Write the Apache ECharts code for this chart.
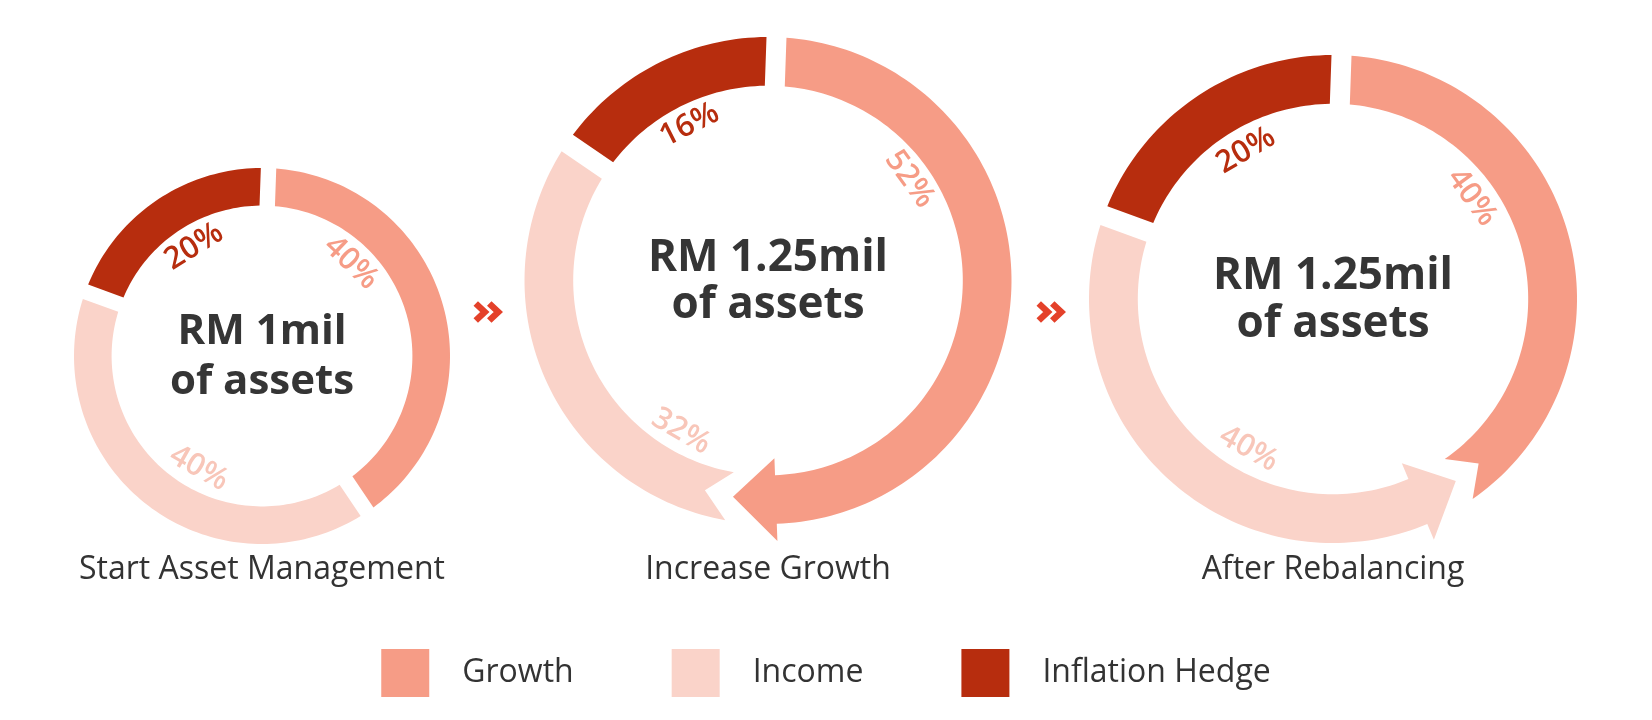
<!DOCTYPE html>
<html>
<head>
<meta charset="utf-8">
<script src="https://cdn.jsdelivr.net/npm/echarts@6/dist/echarts.min.js"></script>
<style>
html,body{margin:0;padding:0;background:#ffffff;}
#main{width:1652px;height:720px;}
</style>
</head>
<body>
<div id="main"></div>
<script>
// ---------------- data ----------------
const categories = ['Growth', 'Income', 'Inflation Hedge'];
const stageTitles = ['Start Asset Management', 'Increase Growth', 'After Rebalancing'];
const centerLine1 = ['RM 1mil', 'RM 1.25mil', 'RM 1.25mil'];
const centerLine2 = ['of assets', 'of assets', 'of assets'];
const growthPct = [40, 52, 40];
const incomePct = [40, 32, 40];
const inflationPct = [20, 16, 20];
const arrowFrom = [null, 'Growth', 'Income'];
const arrowTo = [null, 'Income', 'Growth'];

// ---------------- layout / style ----------------
const FONT = '"Open Sans", "Noto Sans", sans-serif';
const colors = ['#F69C86', '#FAD3C9', '#B72D0E'];
const labelColors = ['#F69C86', '#F8C6B9', '#B72D0E'];
const rings = [
  { cx: 262, cy: 356, r: 188, font: 42, lineH: 50, labelRho: 68.5, labelFrac: [0.29, 0.44, 0.53] },
  { cx: 768, cy: 280.5, r: 243.5, font: 44, lineH: 47, labelRho: 71.5, labelFrac: [0.28, 0.18, 0.5] },
  { cx: 1333, cy: 299, r: 244, font: 44, lineH: 48, labelRho: 70.5, labelFrac: [0.36, 0.44, 0.55] }
];
const START_ANGLE = 88;
const INNER = 80, OUTER = 100, MID = 90;
const HALF_GAP = 4.1;      // in radius-axis units
const ARROW_LEN = 3.13;    // in angle-axis units
const EXT = 7;             // arrow barb overhang (radius units)
const TIP_ADV = 0;
const F = EXT / (MID - INNER + EXT);
const alpha = Math.atan2((MID - INNER + EXT) / 100, ARROW_LEN / 100 * 2 * Math.PI * MID / 100);
const DS = ((2 * HALF_GAP / 100) / Math.sin(alpha)) / (MID / 100) / (2 * Math.PI) * 100;

function dv(rho) { return Math.asin(HALF_GAP / rho) / (2 * Math.PI) * 100; }

function startEdge(type, B, dir) {
  if (type === 'flat') {
    return { pts: [[INNER, B + dv(INNER)], [OUTER, B + dv(OUTER)]], vIn: B + dv(INNER), vOut: B + dv(OUTER) };
  }
  const T = B + dir * TIP_ADV;
  if (type === 'arrow') {
    const base = T - dir * ARROW_LEN;
    return { pts: [[INNER, base], [INNER - EXT, base], [MID, T], [OUTER + EXT, base], [OUTER, base]], vIn: base, vOut: base };
  }
  const tipN = T + dir * DS, corner = T + dir * (DS - (1 - F) * ARROW_LEN);
  return { pts: [[INNER, corner], [MID, tipN], [OUTER, corner]], vIn: corner, vOut: corner };
}
function endEdge(type, B, dir) {
  if (type === 'flat') {
    return { pts: [[OUTER, B - dv(OUTER)], [INNER, B - dv(INNER)]], vIn: B - dv(INNER), vOut: B - dv(OUTER) };
  }
  const T = B + dir * TIP_ADV;
  if (type === 'arrow') {
    const base = T - dir * ARROW_LEN;
    return { pts: [[OUTER, base], [OUTER + EXT, base], [MID, T], [INNER - EXT, base], [INNER, base]], vIn: base, vOut: base };
  }
  const tipN = T + dir * DS, corner = T + dir * (DS - (1 - F) * ARROW_LEN);
  return { pts: [[OUTER, corner], [MID, tipN], [INNER, corner]], vIn: corner, vOut: corner };
}

function chartSegments(i) {
  const vals = [growthPct[i], incomePct[i], inflationPct[i]];
  const starts = [0, vals[0], vals[0] + vals[1]];
  const segs = vals.map((v, k) => ({ value: v, start: starts[k], end: starts[k] + v, sType: 'flat', eType: 'flat', sDir: 0, eDir: 0 }));
  if (arrowFrom[i]) {
    const f = categories.indexOf(arrowFrom[i]);
    const t = categories.indexOf(arrowTo[i]);
    if (t === (f + 1) % 3) {
      segs[f].eType = 'arrow'; segs[f].eDir = 1;
      segs[t].sType = 'notch'; segs[t].sDir = 1;
    } else {
      segs[f].sType = 'arrow'; segs[f].sDir = -1;
      segs[t].eType = 'notch'; segs[t].eDir = -1;
    }
  }
  return segs;
}

function makeRender(i, k) {
  const seg = chartSegments(i)[k];
  const ring = rings[i];
  return function (params, api) {
    const s = startEdge(seg.sType, seg.start, seg.sDir);
    const e = endEdge(seg.eType, seg.end, seg.eDir);
    const poly = [];
    const step = 0.4;
    const nO = Math.max(2, Math.ceil((e.vOut - s.vOut) / step));
    for (let j = 0; j <= nO; j++) poly.push([OUTER, s.vOut + (e.vOut - s.vOut) * j / nO]);
    e.pts.forEach(p => poly.push(p));
    const nI = Math.max(2, Math.ceil((e.vIn - s.vIn) / step));
    for (let j = 0; j <= nI; j++) poly.push([INNER, e.vIn - (e.vIn - s.vIn) * j / nI]);
    s.pts.forEach(p => poly.push(p));
    const points = poly.map(p => { const c = api.coord(p); return [c[0], c[1]]; });

    const cx = params.coordSys.cx, cy = params.coordSys.cy;
    const lv = seg.start + ring.labelFrac[k] * seg.value;
    const lp = api.coord([ring.labelRho, lv]);
    const phi = Math.atan2(lp[0] - cx, -(lp[1] - cy)); // clockwise from top
    let deg = phi * 180 / Math.PI;
    if (deg < 0) deg += 360;
    let rot = (deg > 90 && deg < 270) ? (180 - deg) : (-deg);
    return {
      type: 'group',
      children: [
        { type: 'polygon', shape: { points: points }, style: { fill: colors[k] } },
        {
          type: 'text', x: lp[0], y: lp[1], rotation: rot * Math.PI / 180,
          style: {
            text: seg.value + '%', fill: labelColors[k], fontSize: 31, fontWeight: 600,
            fontFamily: FONT, align: 'center', verticalAlign: 'middle'
          }
        }
      ]
    };
  };
}

const polar = rings.map(r => ({ center: [r.cx, r.cy], radius: r.r }));
const angleAxis = rings.map((r, i) => ({ polarIndex: i, type: 'value', min: 0, max: 100, startAngle: START_ANGLE, clockwise: true, show: false }));
const radiusAxis = rings.map((r, i) => ({ polarIndex: i, type: 'value', min: 0, max: 100, show: false }));

const series = [];
rings.forEach((r, i) => {
  const segs = chartSegments(i);
  categories.forEach((name, k) => {
    series.push({
      type: 'custom', name: name, coordinateSystem: 'polar', polarIndex: i,
      itemStyle: { color: colors[k] }, silent: true,
      data: [[MID, segs[k].start]],
      renderItem: makeRender(i, k)
    });
  });
});

const titles = [];
rings.forEach((r, i) => {
  titles.push({
    text: centerLine1[i] + '\n' + centerLine2[i], left: r.cx, top: r.cy + 1,
    textAlign: 'center', textVerticalAlign: 'middle', padding: 0,
    textStyle: { fontSize: r.font, fontWeight: 'bold', fontFamily: FONT, color: '#353535', lineHeight: r.lineH }
  });
  titles.push({
    text: stageTitles[i], left: r.cx, top: 570,
    textAlign: 'center', textVerticalAlign: 'middle', padding: 0,
    textStyle: { fontSize: 32, fontWeight: 'normal', fontFamily: FONT, color: '#333333' }
  });
});

const graphic = [];
for (let i = 0; i < rings.length - 1; i++) {
  const x = (rings[i].cx + rings[i].r + rings[i + 1].cx - rings[i + 1].r) / 2;
  const y = 312;
  [[-11.5, -2.5], [2, 11]].forEach(([a, b]) => {
    graphic.push({
      type: 'polyline', silent: true,
      shape: { points: [[x + a, y - 8.5], [x + b, y], [x + a, y + 8.5]] },
      style: { stroke: '#E4412A', lineWidth: 6.5, fill: null, lineJoin: 'miter', lineCap: 'butt' }
    });
  });
}

const chart = echarts.init(document.getElementById('main'), null, { renderer: 'canvas' });
chart.setOption({
  animation: false,
  backgroundColor: '#ffffff',
  title: titles,
  polar: polar,
  angleAxis: angleAxis,
  radiusAxis: radiusAxis,
  legend: {
    data: categories, icon: 'rect', itemWidth: 48, itemHeight: 48, itemGap: 98,
    left: 'center', top: 644, selectedMode: false,
    textStyle: { fontSize: 32, fontWeight: 'normal', fontFamily: FONT, color: '#333333', padding: [0, 0, 0, 28] }
  },
  graphic: graphic,
  series: series
});
</script>
</body>
</html>
